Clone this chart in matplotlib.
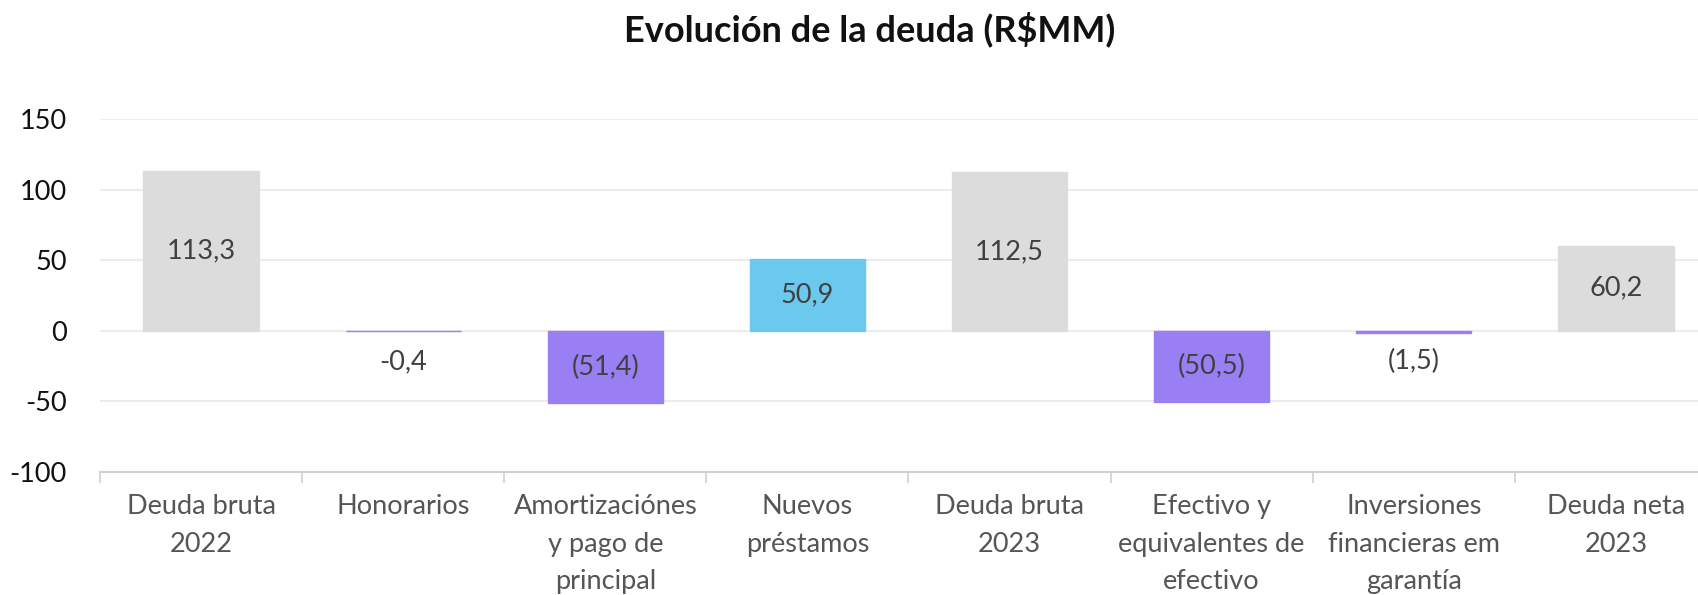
import matplotlib
matplotlib.use("Agg")
import matplotlib.pyplot as plt
import numpy as np

categories = ['Deuda bruta\n2022', 'Honorarios', 'Amortizaciónes\ny pago de\nprincipal',
              'Nuevos\npréstamos', 'Deuda bruta\n2023', 'Efectivo y\nequivalentes de\nefectivo',
              'Inversiones\nfinancieras em\ngarantía', 'Deuda neta\n2023']
values = [113.3, -0.4, -51.4, 50.9, 112.5, -50.5, -1.5, 60.2]
labels = ['113,3', '-0,4', '(51,4)', '50,9', '112,5', '(50,5)', '(1,5)', '60,2']
kinds = ['total', 'neg', 'neg', 'pos', 'total', 'neg', 'neg', 'total']

colors = {'total': '#dcdcdc', 'neg': '#9a7ef3', 'pos': '#6cc9ee'}
plt.rcParams['font.family'] = ['Lato', 'DejaVu Sans']
plt.rcParams['axes.unicode_minus'] = False

fig = plt.figure(figsize=(16.99, 5.95), dpi=100)
ax = fig.add_axes([100 / 1699, 123 / 595, 1617 / 1699, 353 / 595])

x = np.arange(len(values))
bar_cols = [colors[k] for k in kinds]
ax.bar(x, values, width=0.57, color=bar_cols, edgecolor=bar_cols, linewidth=1, zorder=2)

# value labels
for xi, v, lab in zip(x, values, labels):
    y = v / 2 if abs(v) > 10 else -22
    ax.text(xi, y, lab, ha='center', va='center', fontsize=19.5, color='#404040', zorder=3)

ax.set_xlim(-0.5, 7.5)
ax.set_ylim(-100, 150)
ax.set_yticks([-100, -50, 0, 50, 100, 150])
ax.tick_params(axis='y', length=0, labelsize=19.5, labelcolor='#111111', pad=24)
ax.yaxis.grid(True, color='#ececec', linewidth=1.5, zorder=0)

ax.set_xticks(x)
ax.set_xticklabels(categories, fontsize=19.5, color='#555555', linespacing=1.62)
ax.set_xticks(np.arange(-0.5, 8, 1), minor=True)
ax.tick_params(axis='x', which='major', length=0, pad=16)
ax.tick_params(axis='x', which='minor', length=8, color='#d0d0d0', width=1.2)

for s in ['top', 'right', 'left']:
    ax.spines[s].set_visible(False)
ax.spines['bottom'].set_color('#d0d0d0')
ax.spines['bottom'].set_linewidth(1.5)

fig.text(0.512, 0.95, 'Evolución de la deuda (R$MM)', ha='center', va='center',
         fontsize=26, fontweight='bold', color='#111111')

fig.savefig('out.png', dpi=100)
